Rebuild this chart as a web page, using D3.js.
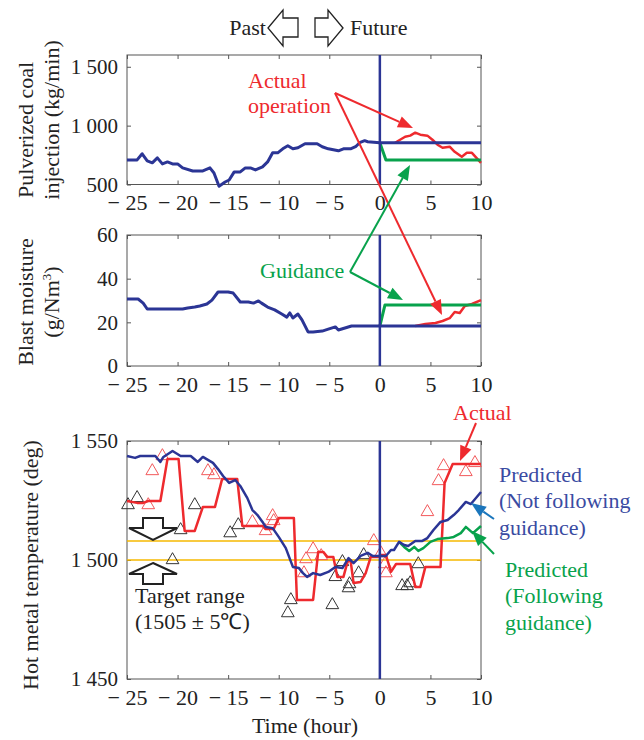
<!DOCTYPE html>
<html>
<head>
<meta charset="utf-8">
<script src="https://cdn.jsdelivr.net/npm/d3@7"></script>
</head>
<body style="margin:0">
<svg id="chart" width="644" height="740" font-family="Liberation Serif"></svg>
<script>
// ---- data (time in hours, [t, value]) ----
var xTicks = [-25, -20, -15, -10, -5, 0, 5, 10];
var xTickLabels = ["\u2212 25", "\u2212 20", "\u2212 15", "\u2212 10", "\u2212 5", "0", "5", "10"];

// pulverized coal injection (kg/min)
var coalTicks = [500, 1000, 1500];
var coalTickLabels = ["500", "1 000", "1 500"];
var coalPast = [[-25,709],[-24,709],[-23.5,761],[-23,701],[-22.5,684],[-22,726],[-21.5,675],[-21,692],
  [-20.5,675],[-20,675],[-19.5,641],[-18.5,615],[-17.5,615],[-16.8,641],[-16.4,598],[-15.9,485],
  [-15.3,521],[-14.9,538],[-14.4,607],[-13.8,607],[-13.3,641],[-12.8,641],[-12.3,624],[-11.6,650],
  [-11.1,692],[-10.6,769],[-10.1,769],[-9.6,803],[-9.1,829],[-8.6,803],[-8.1,812],[-7.4,846],
  [-6.2,846],[-5.7,821],[-5.1,803],[-4.1,786],[-3.6,803],[-2.9,803],[-2.4,821],[-2,855],
  [-1.5,872],[-1.2,863],[0,855],[10,855]];
var coalActual = [[1.5,855],[2,880],[2.5,906],[3,915],[3.5,940],[4,923],[4.7,915],[5.2,880],
  [5.7,838],[6.2,812],[6.9,821],[7.4,778],[8.1,735],[8.6,769],[9.1,769],[10,684]];
var coalGuide = [[0,855],[0.6,709],[10,709]];

// blast moisture (g/Nm3)
var moistTicks = [0, 20, 40, 60];
var moistTickLabels = ["0", "20", "40", "60"];
var moistPast = [[-25,30.7],[-23.9,30.7],[-23.4,28.8],[-23,26.1],[-19.5,26.1],[-19,26.6],[-18.3,27],
  [-17.8,27.5],[-17.1,28.4],[-16.6,30.2],[-16,33.9],[-15,33.9],[-14.5,33.4],[-13.8,29.3],[-13,29.3],
  [-12.5,28.8],[-12,29.8],[-11.7,28.8],[-11.1,27],[-10.4,25.7],[-9.7,23.8],[-9.2,22.4],[-8.9,24.3],
  [-8.6,22],[-8.1,23.8],[-7.7,21.1],[-7.1,15.6],[-6.6,15.6],[-5.7,16],[-5.1,16.9],[-4.4,17.9],
  [-4.1,16.5],[-2.8,18.3],[0,18.3],[10,18.3]];
var moistActual = [[3.5,18.3],[4.5,19.2],[5.5,19.7],[6.2,20.6],[6.9,21.9],[7.4,24.7],[7.9,24.3],
  [8.4,27.5],[9.1,28.4],[10,30.2]];
var moistGuide = [[0,18.3],[0.5,27.9],[10,27.9]];

// hot metal temperature (deg)
var tempTicks = [1450, 1500, 1550];
var tempTickLabels = ["1 450", "1 500", "1 550"];
var targetBand = [1500, 1508];
var tempPredicted = [[-25,1543.7],[-24.2,1542.9],[-23.7,1543.7],[-22.2,1543.7],[-21.7,1541.2],
  [-21.4,1543.3],[-20.5,1545.8],[-19.7,1543.7],[-18.7,1543.7],[-18,1541.2],[-17.5,1543.3],
  [-16.5,1540.8],[-16,1538.2],[-15.5,1535.3],[-14.9,1532.4],[-14.3,1533.6],[-13.8,1531.1],
  [-13.1,1526],[-12.6,1521],[-12.1,1518.9],[-11.6,1516],[-11.3,1513.9],[-10.6,1513.4],
  [-10,1509.7],[-9.3,1505],[-8.6,1497.1],[-8,1496.6],[-7.6,1494.5],[-7.2,1492.9],[-6.6,1494.5],
  [-5.9,1493.7],[-5.1,1495],[-4.4,1497.1],[-3.7,1496.6],[-3.1,1500.8],[-2.6,1498.7],[-1.9,1501.7],
  [-1.2,1503],[-0.7,1501.7],[0.6,1501.7],[1.1,1504.2],[1.4,1504.2],[1.9,1507.6],[2.4,1506.3],
  [2.8,1505.9],[3.5,1508],[4.2,1508],[4.7,1509.2],[5.3,1512.6],[6,1516],[6.7,1516.8],
  [7.3,1518.9],[7.8,1521],[8.5,1524.4],[9,1523.5],[10,1528.6]];
var tempGuided = [[1.9,1507.6],[2.4,1505.5],[2.9,1503.8],[3.4,1505.5],[3.8,1503.8],[4.3,1505],
  [5,1507.6],[5.7,1508.8],[6.7,1509.2],[7.3,1509.7],[8,1511.3],[8.5,1513.9],[9.2,1511.3],[10,1514.3]];
var tempActual = [[-25,1524.8],[-24,1524],[-23.4,1524],[-22.9,1524.8],[-21.7,1524.8],[-21,1542.4],
  [-19.9,1542.4],[-19.3,1512.2],[-18.3,1512.2],[-17.5,1522.3],[-16.3,1522.3],[-15.6,1534],
  [-14.1,1534],[-13.6,1514.3],[-11.6,1514.3],[-11.3,1513],[-10.5,1513],[-10,1517.6],[-8.5,1517.6],
  [-8.2,1483.2],[-6.6,1483.2],[-6.1,1503.4],[-5.6,1503.4],[-5.2,1501.3],[-4.6,1501.3],[-4.2,1492.9],
  [-3.6,1492.9],[-3.2,1499.2],[-2.9,1500],[-2.6,1490.3],[-1.9,1490.8],[-1.4,1494.5],[-0.9,1501.3],
  [-0.2,1501.3],[0.1,1502.1],[0.6,1502.1],[1.1,1495],[1.6,1498.3],[3,1498.3],[3.5,1488.7],
  [4,1488.7],[4.5,1497.1],[6,1497.1],[6.4,1532.4],[7.2,1540.3],[10,1540.3]];
var tempSampleBlack = [[-24.9,1523.1],[-24,1526.1],[-18.3,1523.1],[-19.7,1512.6],[-20.5,1500],
  [-14.8,1511.3],[-14,1514.7],[-8.8,1483.2],[-9.1,1477.7],[-4.7,1481.1],[-4.4,1492.9],[-3.7,1499.2],
  [-3,1489.9],[-3.1,1488.2],[-2.1,1494.5],[-1.6,1502.1],[2.2,1489.1],[2.7,1489.1],[3,1490.3],[3.8,1498.3]];
var tempSampleRed = [[-21.5,1543.7],[-22.5,1537.4],[-22.9,1523.1],[-17,1537.4],[-16.4,1535.7],
  [-12.6,1516],[-11.3,1512.2],[-10.6,1518.5],[-10.5,1516.4],[-7.5,1494.5],[-7.3,1500.4],
  [-6.6,1504.6],[-5.8,1501.7],[-0.6,1508],[0.1,1502.9],[0.5,1498.3],[0.6,1494.5],[4.7,1520.2],
  [5.8,1533.2],[6.3,1539.5],[8.5,1537],[9.4,1540.8]];

// ---- colours ----
var BLUE = "#2b3595", RED = "#ee2a2e", GREEN = "#08a24c", ORANGE = "#f6b800";
var LBLUE = "#1b76bc", TBLUE = "#3a4ba2";
var FONT = "Liberation Serif";

var svg = d3.select("#chart");
var x = d3.scaleLinear().domain([-25, 10]).range([127, 481]);

function panel(top, bottom, domain, ticks, labels) {
  var y = d3.scaleLinear().domain(domain).range([bottom, top]);
  var g = svg.append("g");
  g.append("rect").attr("x", x.range()[0]).attr("y", top)
    .attr("width", x.range()[1] - x.range()[0]).attr("height", bottom - top)
    .attr("fill", "none").attr("stroke", "#555").attr("stroke-width", 1);

  var ax = [
    d3.axisBottom(x).tickValues(xTicks).tickFormat((d, i) => xTickLabels[i]).tickSize(-4).tickPadding(10),
    d3.axisTop(x).tickValues(xTicks).tickFormat("").tickSize(-4),
    d3.axisLeft(y).tickValues(ticks).tickFormat((d, i) => labels[i]).tickSize(-4).tickPadding(9),
    d3.axisRight(y).tickValues(ticks).tickFormat("").tickSize(-4)
  ];
  var pos = ["translate(0," + bottom + ")", "translate(0," + top + ")",
             "translate(" + x.range()[0] + ",0)", "translate(" + x.range()[1] + ",0)"];
  ax.forEach(function(a, i) {
    var ag = g.append("g").attr("transform", pos[i]).call(a.tickSizeOuter(0));
    ag.select(".domain").remove();
    ag.attr("font-family", FONT).attr("font-size", i == 0 ? 22 : 21);
    ag.selectAll("line").attr("stroke", "#555");
    ag.selectAll("text").attr("fill", "#222").attr("font-family", FONT);
  });
  return { g: g, y: y, top: top, bottom: bottom };
}

function drawLine(p, data, color, width) {
  var line = d3.line().x(d => x(d[0])).y(d => p.y(d[1]));
  p.g.append("path").datum(data).attr("d", line)
    .attr("fill", "none").attr("stroke", color).attr("stroke-width", width)
    .attr("stroke-linejoin", "round");
}

function nowLine(p) {
  p.g.append("line").attr("x1", x(0)).attr("x2", x(0)).attr("y1", p.top).attr("y2", p.bottom)
    .attr("stroke", BLUE).attr("stroke-width", 2.5);
}

// panel 1: coal
var p1 = panel(55, 184.5, [500, 1600], coalTicks, coalTickLabels);
drawLine(p1, coalActual, RED, 2.5);
drawLine(p1, coalGuide, GREEN, 3);
drawLine(p1, coalPast, BLUE, 3);
nowLine(p1);

// panel 2: moisture
var p2 = panel(235, 366, [0, 60], moistTicks, moistTickLabels);
drawLine(p2, moistActual, RED, 2.5);
drawLine(p2, moistGuide, GREEN, 3);
drawLine(p2, moistPast, BLUE, 3);
nowLine(p2);

// panel 3: hot metal temperature
var p3 = panel(441, 679, [1450, 1550], tempTicks, tempTickLabels);
targetBand.forEach(function(v) {
  p3.g.append("line").attr("x1", x(-25)).attr("x2", x(10)).attr("y1", p3.y(v)).attr("y2", p3.y(v))
    .attr("stroke", ORANGE).attr("stroke-width", 1.5);
});
var tri = d3.symbol().type(d3.symbolTriangle).size(70);
p3.g.selectAll(".tb").data(tempSampleBlack).enter().append("path")
  .attr("d", tri).attr("transform", d => "translate(" + x(d[0]) + "," + p3.y(d[1]) + ")")
  .attr("fill", "none").attr("stroke", "#333").attr("stroke-width", 1);
p3.g.selectAll(".tr").data(tempSampleRed).enter().append("path")
  .attr("d", tri).attr("transform", d => "translate(" + x(d[0]) + "," + p3.y(d[1]) + ")")
  .attr("fill", "none").attr("stroke", "#f2595b").attr("stroke-width", 1);
drawLine(p3, tempActual, RED, 2.5);
drawLine(p3, tempGuided, GREEN, 2.5);
drawLine(p3, tempPredicted, BLUE, 2.5);
nowLine(p3);

// ---- axis titles ----
function vtext(tx, ty, str, size) {
  return svg.append("text").attr("transform", "translate(" + tx + "," + ty + ") rotate(-90)")
    .attr("text-anchor", "middle").attr("fill", "#222")
    .attr("font-family", FONT).attr("font-size", size).text(str);
}
vtext(33, 130, "Pulverized coal", 22);
vtext(59, 120, "injection (kg/min)", 22);
vtext(33, 302, "Blast moisture", 22);
var gm = vtext(59, 302, "(g/Nm", 22);
gm.append("tspan").attr("font-size", 13).attr("dy", -8).text("3");
gm.append("tspan").attr("dy", 8).text(")");
vtext(38, 565, "Hot metal temperature (deg)", 22);
svg.append("text").attr("x", 305).attr("y", 733).attr("text-anchor", "middle")
  .attr("font-family", FONT).attr("font-size", 22).attr("fill", "#222").text("Time (hour)");

// ---- annotations ----
function arrow(x1, y1, x2, y2, color) {
  var a = Math.atan2(y2 - y1, x2 - x1), L = 15, H = 6;
  var bx = x2 - L * Math.cos(a), by = y2 - L * Math.sin(a);
  svg.append("line").attr("x1", x1).attr("y1", y1).attr("x2", bx).attr("y2", by)
    .attr("stroke", color).attr("stroke-width", 2);
  svg.append("path")
    .attr("d", "M" + x2 + "," + y2 + "L" + (bx + H * Math.sin(a)) + "," + (by - H * Math.cos(a)) +
      "L" + (bx - H * Math.sin(a)) + "," + (by + H * Math.cos(a)) + "Z")
    .attr("fill", color);
}
function label(tx, ty, str, color, anchor) {
  svg.append("text").attr("x", tx).attr("y", ty).attr("fill", color)
    .attr("font-family", FONT).attr("font-size", 22)
    .attr("text-anchor", anchor || "start").text(str);
}

label(248, 88, "Actual", RED);
label(248, 113, "operation", RED);
arrow(335, 93, 413, 128, RED);
arrow(335, 93, 442, 315, RED);

label(260, 278, "Guidance", GREEN);
arrow(350, 272, 410, 165, GREEN);
arrow(350, 272, 403, 300, GREEN);

label(453, 420, "Actual", RED);
arrow(476, 423, 460, 461, RED);
label(499, 482, "Predicted", TBLUE);
label(499, 508, "(Not following", TBLUE);
label(499, 535, "guidance)", TBLUE);
arrow(494, 519, 471, 503, LBLUE);
label(505, 577, "Predicted", GREEN);
label(505, 603, "(Following", GREEN);
label(505, 630, "guidance)", GREEN);
arrow(494, 554, 472, 531, GREEN);

// past / future
label(266, 35, "Past", "#222", "end");
label(350, 35, "Future", "#222");
svg.append("path").attr("d", "M268,28L283,10L283,18L298,18L298,37L283,37L283,46Z")
  .attr("fill", "#fff").attr("stroke", "#222").attr("stroke-width", 1.3);
svg.append("path").attr("d", "M343,28L328,10L328,18L315,18L315,37L328,37L328,46Z")
  .attr("fill", "#fff").attr("stroke", "#222").attr("stroke-width", 1.3);

// target range arrows
svg.append("path").attr("d", "M143,518L163,518L163,528L177,528L153,540L129,528L143,528Z")
  .attr("fill", "#fff").attr("stroke", "#222").attr("stroke-width", 2);
svg.append("path").attr("d", "M153,563L177,574L163,574L163,584L143,584L143,574L129,574Z")
  .attr("fill", "#fff").attr("stroke", "#222").attr("stroke-width", 2);
label(135, 603, "Target range", "#222");
label(135, 629, "(1505 \u00b1 5\u2103)", "#222");
</script>
</body>
</html>
